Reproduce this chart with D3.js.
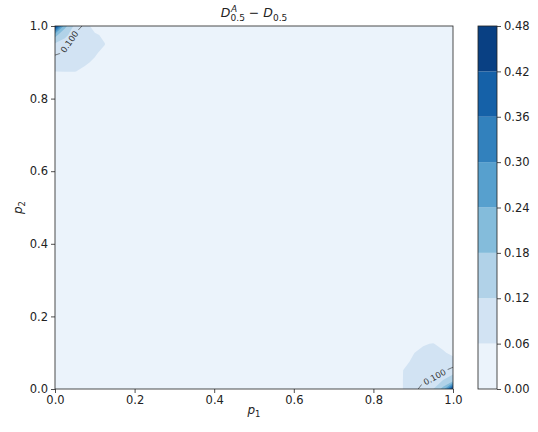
<!DOCTYPE html>
<html>
<head>
<meta charset="utf-8">
<script src="https://cdn.jsdelivr.net/npm/d3@7"></script>
<style>
  body { margin: 0; background: #fff; }
  svg { display: block; font-family: "DejaVu Sans", sans-serif; }
</style>
</head>
<body>
<svg id="chart" width="538" height="432"></svg>
<script>
// grid of samples on [0,1] x [0,1], zero away from the two corners
const gridStep = 0.025;
const axisTicks = [0, 0.2, 0.4, 0.6, 0.8, 1.0];
const fillLevels = [0, 0.06, 0.12, 0.18, 0.24, 0.30, 0.36, 0.42, 0.48];
const lineLevels = [0.1];
// corner p1=0, p2=1 : rows go down from p2=1 by gridStep, cols go right from p1=0
const cornerTopLeft = [
  [0.470, 0.200, 0.105, 0.098, 0.023, 0.000, 0],
  [0.200, 0.130, 0.099, 0.090, 0.072, 0.045, 0],
  [0.112, 0.102, 0.095, 0.088, 0.075, 0.062, 0],
  [0.104, 0.097, 0.092, 0.082, 0.068, 0.040, 0],
  [0.085, 0.082, 0.078, 0.070, 0.050, 0.000, 0],
  [0.061, 0.062, 0.062, 0.045, 0.000, 0.000, 0],
  [0, 0, 0, 0, 0, 0, 0]
];
// corner p1=1, p2=0 : rows go up from p2=0 by gridStep, cols go left from p1=1
const cornerBottomRight = [
  [0.470, 0.200, 0.118, 0.105, 0.095, 0.062, 0],
  [0.135, 0.120, 0.102, 0.098, 0.085, 0.062, 0],
  [0.110, 0.098, 0.092, 0.088, 0.080, 0.061, 0],
  [0.085, 0.088, 0.085, 0.080, 0.066, 0.050, 0],
  [0.043, 0.068, 0.075, 0.072, 0.058, 0.020, 0],
  [0.020, 0.040, 0.063, 0.055, 0.020, 0.000, 0],
  [0, 0, 0, 0, 0, 0, 0]
];

const n = Math.round(1 / gridStep) + 1;
const values = new Array(n * n).fill(0);
cornerTopLeft.forEach((row, r) => row.forEach((v, c) => { values[(n - 1 - r) * n + c] = v; }));
cornerBottomRight.forEach((row, r) => row.forEach((v, c) => { values[r * n + (n - 1 - c)] = v; }));

const svg = d3.select('#chart');
const pL = 55, pR = 453, pT = 26, pB = 389;
const x = d3.scaleLinear().domain([0, 1]).range([pL, pR]);
const y = d3.scaleLinear().domain([0, 1]).range([pB, pT]);
const bandColor = k => d3.interpolateBlues((k + 0.5) / (fillLevels.length - 1));

// grid coords -> pixels (d3.contours puts sample i at i + 0.5)
const toPx = (gx, gy) => [x((gx - 0.5) * gridStep), y((gy - 0.5) * gridStep)];
const path = d3.geoPath(d3.geoTransform({
  point(gx, gy) { const p = toPx(gx, gy); this.stream.point(p[0], p[1]); }
}));

const defs = svg.append('defs');
defs.append('clipPath').attr('id', 'plotclip')
  .append('rect').attr('x', pL).attr('y', pT).attr('width', pR - pL).attr('height', pB - pT);

const plot = svg.append('g').attr('clip-path', 'url(#plotclip)');
plot.append('rect').attr('x', pL).attr('y', pT).attr('width', pR - pL).attr('height', pB - pT)
  .attr('fill', bandColor(0));

const fills = d3.contours().size([n, n]).thresholds(fillLevels.slice(1, -1))(values);
plot.selectAll('path.band').data(fills).join('path')
  .attr('class', 'band')
  .attr('d', path)
  .attr('fill', (d, i) => bandColor(i + 1));

// contour line + inline labels
const lines = d3.contours().size([n, n]).thresholds(lineLevels)(values);
const labels = [];
lines.forEach(c => {
  c.coordinates.forEach(poly => poly.forEach(ring => {
    const pts = ring.map(p => toPx(p[0], p[1]));
    const inside = p => p[0] >= pL - 0.5 && p[0] <= pR + 0.5 && p[1] >= pT - 0.5 && p[1] <= pB + 0.5;
    const k = pts.findIndex(p => !inside(p));
    const rot = k < 0 ? pts : pts.slice(k).concat(pts.slice(0, k));
    let runs = [], cur = [];
    rot.forEach(p => { if (inside(p)) cur.push(p); else { if (cur.length > 1) runs.push(cur); cur = []; } });
    if (cur.length > 1) runs.push(cur);
    runs.forEach(run => {
      const cum = [0];
      for (let i = 1; i < run.length; i++) cum.push(cum[i - 1] + Math.hypot(run[i][0] - run[i - 1][0], run[i][1] - run[i - 1][1]));
      const total = cum[cum.length - 1];
      const at = s => {
        let i = 1;
        while (i < run.length - 1 && cum[i] < s) i++;
        const t = (s - cum[i - 1]) / ((cum[i] - cum[i - 1]) || 1);
        return [run[i - 1][0] + t * (run[i][0] - run[i - 1][0]), run[i - 1][1] + t * (run[i][1] - run[i - 1][1])];
      };
      const mid = at(total / 2), a = at(total / 2 - 10), b = at(total / 2 + 10);
      let ang = Math.atan2(b[1] - a[1], b[0] - a[0]) * 180 / Math.PI;
      if (ang > 90) ang -= 180;
      if (ang < -90) ang += 180;
      labels.push({ x: mid[0], y: mid[1], ang, text: d3.format('.3f')(c.value) });
    });
  }));
});

const mask = defs.append('mask').attr('id', 'lblmask');
mask.append('rect').attr('width', 538).attr('height', 432).attr('fill', '#fff');
labels.forEach(l => {
  mask.append('rect').attr('x', -15).attr('y', -5).attr('width', 30).attr('height', 10).attr('fill', '#000')
    .attr('transform', `translate(${l.x},${l.y}) rotate(${l.ang})`);
});
plot.append('g').attr('mask', 'url(#lblmask)')
  .selectAll('path').data(lines).join('path')
  .attr('d', path).attr('fill', 'none').attr('stroke', '#444').attr('stroke-width', 0.7);
plot.selectAll('text.clabel').data(labels).join('text')
  .attr('class', 'clabel')
  .attr('transform', d => `translate(${d.x},${d.y}) rotate(${d.ang})`)
  .attr('text-anchor', 'middle').attr('dy', '0.35em')
  .attr('font-size', 8.5).attr('fill', '#333')
  .text(d => d.text);

// axes
const fmt = d3.format('.1f');
const xAxis = svg.append('g').attr('transform', `translate(0,${pB})`)
  .call(d3.axisBottom(x).tickValues(axisTicks).tickFormat(fmt).tickSize(4).tickSizeOuter(0));
const yAxis = svg.append('g').attr('transform', `translate(${pL},0)`)
  .call(d3.axisLeft(y).tickValues(axisTicks).tickFormat(fmt).tickSize(4).tickSizeOuter(0));
[xAxis, yAxis].forEach(g => {
  g.select('.domain').remove();
  g.selectAll('text').attr('font-size', 11.5).attr('font-family', '"DejaVu Sans", sans-serif').attr('fill', '#222');
  g.selectAll('line').attr('stroke', '#222').attr('stroke-width', 0.8);
});
svg.append('rect').attr('x', pL).attr('y', pT).attr('width', pR - pL).attr('height', pB - pT)
  .attr('fill', 'none').attr('stroke', '#222').attr('stroke-width', 0.8);

// title and axis labels
const title = svg.append('text').attr('x', (pL + pR) / 2).attr('y', 17)
  .attr('text-anchor', 'middle').attr('font-size', 12.5).attr('fill', '#222');
title.append('tspan').attr('font-style', 'italic').text('D');
title.append('tspan').attr('font-style', 'italic').attr('font-size', 9).attr('dy', -5).attr('dx', 0.5).text('A');
title.append('tspan').attr('font-size', 9).attr('dy', 8.5).attr('dx', -6.5).text('0.5');
title.append('tspan').attr('dy', -3.5).text(' \u2212 ');
title.append('tspan').attr('font-style', 'italic').text('D');
title.append('tspan').attr('font-size', 9).attr('dy', 3.5).text('0.5');

const xl = svg.append('text').attr('x', (pL + pR) / 2).attr('y', 414)
  .attr('text-anchor', 'middle').attr('font-size', 12).attr('fill', '#222');
xl.append('tspan').attr('font-style', 'italic').text('p');
xl.append('tspan').attr('font-size', 8.5).attr('dy', 3).text('1');

const yl = svg.append('text').attr('transform', `translate(22,${(pT + pB) / 2}) rotate(-90)`)
  .attr('text-anchor', 'middle').attr('font-size', 12).attr('fill', '#222');
yl.append('tspan').attr('font-style', 'italic').text('p');
yl.append('tspan').attr('font-size', 8.5).attr('dy', 3).text('2');

// colorbar
const cbLeft = 478, cbWidth = 19;
const cy = d3.scaleLinear().domain([fillLevels[0], fillLevels[fillLevels.length - 1]]).range([pB, pT]);
const cb = svg.append('g');
cb.selectAll('rect.cband').data(fillLevels.slice(0, -1)).join('rect')
  .attr('class', 'cband')
  .attr('x', cbLeft).attr('width', cbWidth)
  .attr('y', (d, i) => cy(fillLevels[i + 1]))
  .attr('height', (d, i) => cy(d) - cy(fillLevels[i + 1]))
  .attr('fill', (d, i) => bandColor(i));
cb.append('rect').attr('x', cbLeft).attr('y', pT).attr('width', cbWidth).attr('height', pB - pT)
  .attr('fill', 'none').attr('stroke', '#222').attr('stroke-width', 0.8);
const cbAxis = svg.append('g').attr('transform', `translate(${cbLeft + cbWidth},0)`)
  .call(d3.axisRight(cy).tickValues(fillLevels).tickFormat(d3.format('.2f')).tickSize(4).tickSizeOuter(0));
cbAxis.select('.domain').remove();
cbAxis.selectAll('text').attr('font-size', 11.5).attr('font-family', '"DejaVu Sans", sans-serif').attr('fill', '#222');
cbAxis.selectAll('line').attr('stroke', '#222').attr('stroke-width', 0.8);
</script>
</body>
</html>
